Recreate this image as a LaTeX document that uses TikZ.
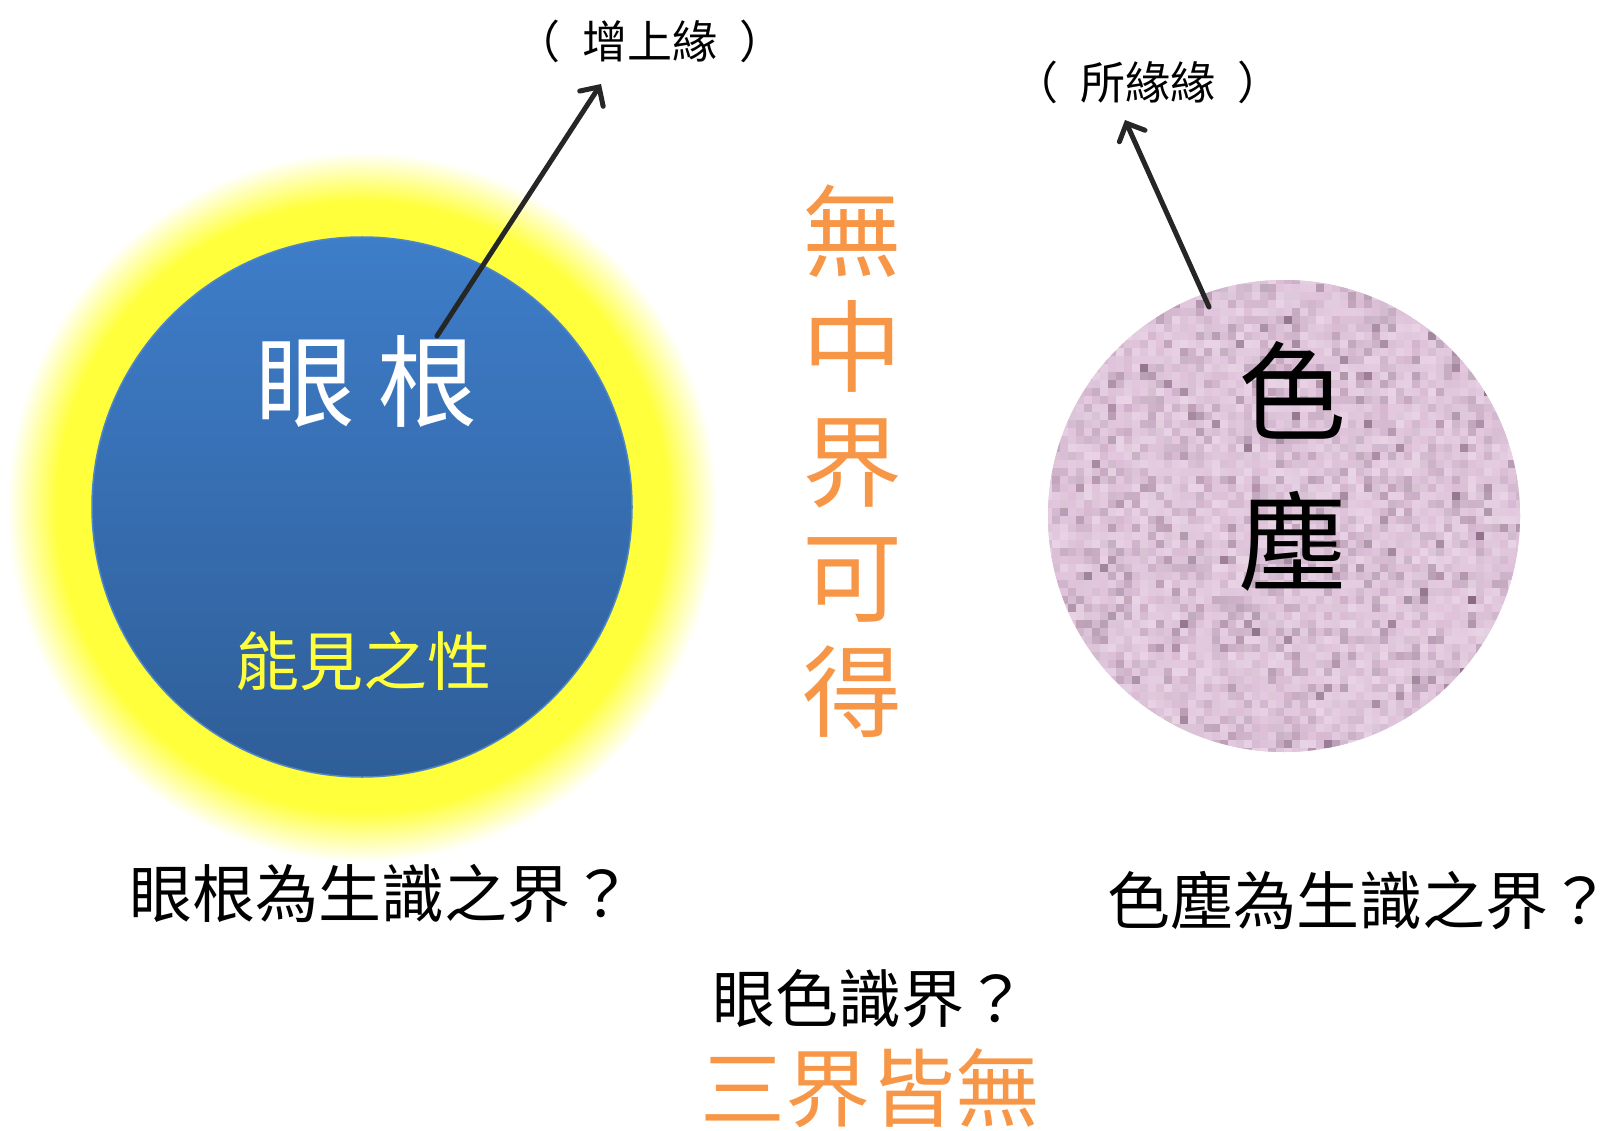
\documentclass[tikz,border=0pt]{standalone}
\usepackage{fontspec}
\setmainfont{Noto Sans CJK TC}
\usetikzlibrary{arrows.meta,calc}

\definecolor{rootblue}{HTML}{3E7DC9}
\definecolor{rootbluedark}{HTML}{2F5E98}
\definecolor{rootedge}{HTML}{4F86C6}
\definecolor{dustpink}{HTML}{E0C2DB}
\definecolor{dustdark}{HTML}{5E3E58}
\definecolor{voidorange}{HTML}{F79646}
\definecolor{arrowgray}{HTML}{262626}
\definecolor{glowyellow}{HTML}{FFFF3C}

\pgfdeclareradialshading{eyeglow}{\pgfpoint{0bp}{0bp}}{color(0bp)=(glowyellow); color(21.5bp)=(glowyellow); color(25bp)=(white); color(50bp)=(white)}

\begin{document}
\begin{tikzpicture}[x=1pt,y=-1pt,every node/.style={inner sep=0pt},
    pointer/.style={arrowgray,line width=5pt,line cap=round,-{Straight Barb[length=14pt,width=28pt,line cap=round]}},
    condlabel/.style={font=\fontsize{45}{50}\selectfont}, %(增上緣) y (所緣緣)
    question/.style={font=\fontsize{63}{66}\selectfont}]
    \useasboundingbox (0,0) rectangle (1606,1131);

    % el ojo (眼根) con su brillo
    \coordinate (eye) at (362,507);
    \path[shading=eyeglow] (eye) circle (355);
    \shade[top color=rootblue,bottom color=rootbluedark] (eye) circle (270);
    \draw[rootedge,line width=1.5pt] (eye) circle (270);

    % la forma (色塵), un mosaico de puntitos al azar
    \coordinate (dust) at (1284,516);
    \fill[dustpink] (dust) circle (236);
    \begin{scope}
        \clip (dust) circle (236);
        \pgfmathsetseed{7}
        \foreach \gx in {-240,-232,...,232}{
            \foreach \gy in {-240,-232,...,232}{
                \pgfmathsetmacro{\tone}{int(rnd*rnd*rnd*90)}
                \pgfmathsetmacro{\lite}{int(70+rnd*30)}
                \fill[dustdark!\tone!dustpink!\lite!white] ($(dust)+(\gx,\gy)$) rectangle ++(8,8);
            }
        }
    \end{scope}

    % textos
    \node[white,font=\fontsize{100}{100}\selectfont] (rootname) at (366,381) {眼\hspace{22pt}根};
    \node[glowyellow,font=\fontsize{64}{64}\selectfont] (seeing) at (363,661) {能見之性};
    \node[font=\fontsize{108}{150}\selectfont,align=center] (dustname) at (1292,466) {色\\塵};
    \node[voidorange,font=\fontsize{100}{115}\selectfont,align=center] (nowhere) at (852,461) {無\\中\\界\\可\\得};

    \node[condlabel] (dominant) at (650,41) {（\hspace{22pt}增上緣\hspace{22pt}）};
    \node[condlabel] (objcond) at (1148,82) {（\hspace{22pt}所緣緣\hspace{22pt}）};

    \node[question] (rootq) at (381,894) {眼根為生識之界？};
    \node[question] (dustq) at (1359,901) {色塵為生識之界？};
    \node[question] (eyeq) at (870,999) {眼色識界？};
    \node[voidorange,font=\fontsize{85}{90}\selectfont] (allnone) at (870,1088) {三界皆無};

    % flechas
    \coordinate (rootTail) at (437,336);
    \coordinate (rootHead) at (601,84);
    \coordinate (dustTail) at (1209,307);
    \coordinate (dustHead) at (1125,120);
    \draw[pointer] (rootTail) -- (rootHead);
    \draw[pointer] (dustTail) -- (dustHead);
\end{tikzpicture}
\end{document}
